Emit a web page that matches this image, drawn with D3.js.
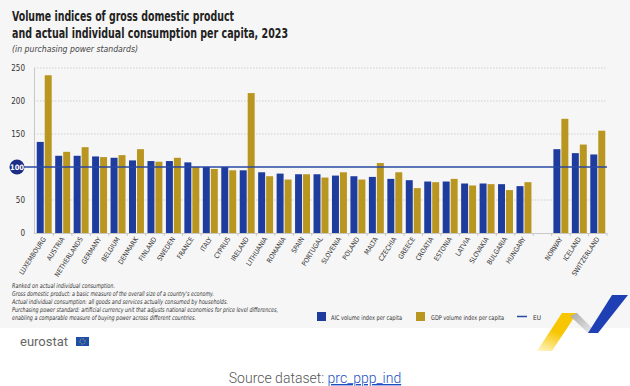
<!DOCTYPE html>
<html>
<head>
<meta charset="utf-8">
<script src="https://cdn.jsdelivr.net/npm/d3@7/dist/d3.min.js"></script>
<style>
  body { margin: 0; background: #fff; }
  svg { display: block; }
  .narrow { font-family: "Liberation Sans Narrow", "DejaVu Sans Condensed", sans-serif; }
</style>
</head>
<body>
<div id="chart"></div>
<script>
// countries ranked on AIC, then the EFTA group after a gap
const euCountries = ["LUXEMBOURG","AUSTRIA","NETHERLANDS","GERMANY","BELGIUM","DENMARK","FINLAND","SWEDEN","FRANCE","ITALY","CYPRUS","IRELAND","LITHUANIA","ROMANIA","SPAIN","PORTUGAL","SLOVENIA","POLAND","MALTA","CZECHIA","GREECE","CROATIA","ESTONIA","LATVIA","SLOVAKIA","BULGARIA","HUNGARY"]
const eftaCountries = ["NORWAY","ICELAND","SWITZERLAND"]
const aicValues = [138,117,117,116,114,110,109,109,107,100,100,95,92,90,89,89,87,86,85,82,80,78,78,75,75,74,71,127,121,119]
const gdpValues = [239,123,130,115,118,127,108,114,100,97,95,212,86,81,89,84,92,81,106,92,68,77,82,72,74,65,77,173,134,155]
const yTicks = [0,50,100,150,200,250]
const euLevel = 100

const footnotes = [
  "Ranked on actual individual consumption.",
  "Gross domestic product: a basic measure of the overall size of a country's economy.",
  "Actual individual consumption: all goods and services actually consumed by households.",
  "Purchasing power standard: artificial currency unit that adjusts national economies for price level differences,",
  "enabling a comparable measure of buying power across different countries."
]
const footWidths = [103, 202, 216, 266, 184]

const blue = "#1e3b9e", gold = "#b8961f", lineBlue = "#2848a3"

const W = 630, H = 386
const svg = d3.select("#chart").append("svg").attr("width", W).attr("height", H)

// panel background
svg.append("rect").attr("width", W).attr("height", 328).attr("fill", "#f6f6f6")

// title
const title = svg.append("g").attr("class", "narrow").attr("fill", "#222").attr("font-weight", "bold")
title.append("text").attr("x", 12).attr("y", 21).attr("font-size", 14)
  .attr("textLength", 222).attr("lengthAdjust", "spacingAndGlyphs")
  .text("Volume indices of gross domestic product")
title.append("text").attr("x", 12).attr("y", 38).attr("font-size", 14)
  .attr("textLength", 276).attr("lengthAdjust", "spacingAndGlyphs")
  .text("and actual individual consumption per capita, 2023")
svg.append("text").attr("class", "narrow").attr("x", 12).attr("y", 52)
  .attr("font-size", 8.5).attr("font-style", "italic").attr("fill", "#444")
  .attr("textLength", 126).attr("lengthAdjust", "spacingAndGlyphs")
  .text("(in purchasing power standards)")

// scales
const domain = [...euCountries, "gap", ...eftaCountries]
const countries = [...euCountries, ...eftaCountries]
const data = countries.map((c, i) => ({country: c, aic: aicValues[i], gdp: gdpValues[i]}))

const x = d3.scaleBand().domain(domain).range([35, 607]).padding(0)
const xSub = d3.scaleBand().domain(["aic","gdp"]).range([0, x.bandwidth()])
  .paddingInner(0.125).paddingOuter(0.22)
const y = d3.scaleLinear().domain([0, 250]).range([233, 68])

// gridlines
svg.append("g").selectAll("line").data(yTicks.filter(t => t !== 0 && t !== euLevel)).enter()
  .append("line")
  .attr("x1", 34).attr("x2", 607)
  .attr("y1", d => y(d)).attr("y2", d => y(d))
  .attr("stroke", "#c8c8c8").attr("stroke-width", 0.8).attr("stroke-dasharray", "1.5,1.5")

// y axis line
svg.append("line").attr("x1", 34.5).attr("x2", 34.5).attr("y1", y(250)).attr("y2", y(0))
  .attr("stroke", "#c8c8c8").attr("stroke-width", 1)

// y tick labels
svg.append("g").attr("class", "narrow").selectAll("text")
  .data(yTicks.filter(t => t !== euLevel)).enter()
  .append("text")
  .attr("x", 25).attr("y", d => y(d) + 2.5)
  .attr("text-anchor", "end").attr("font-size", 8).attr("fill", "#333")
  .text(d => d)

// bars
const groups = svg.append("g").selectAll("g").data(data).enter()
  .append("g").attr("transform", d => "translate(" + x(d.country) + ",0)")
groups.append("rect")
  .attr("x", xSub("aic")).attr("width", xSub.bandwidth())
  .attr("y", d => y(d.aic)).attr("height", d => y(0) - y(d.aic))
  .attr("fill", blue)
groups.append("rect")
  .attr("x", xSub("gdp")).attr("width", xSub.bandwidth())
  .attr("y", d => y(d.gdp)).attr("height", d => y(0) - y(d.gdp))
  .attr("fill", gold)

// x axis baseline + ticks at slot boundaries
svg.append("line").attr("x1", 34).attr("x2", 607).attr("y1", 233.5).attr("y2", 233.5)
  .attr("stroke", "#c8c8c8")
svg.append("g").selectAll("line").data(domain).enter()
  .append("line")
  .attr("x1", d => x(d) + x.bandwidth()).attr("x2", d => x(d) + x.bandwidth())
  .attr("y1", 233).attr("y2", 236)
  .attr("stroke", "#c8c8c8")

// x labels rotated
svg.append("g").attr("class", "narrow").selectAll("text").data(countries).enter()
  .append("text")
  .attr("transform", d => "translate(" + (x(d) + x.bandwidth() / 2 + 2) + ",239) rotate(-57)")
  .attr("text-anchor", "end").attr("font-size", 6.8).attr("fill", "#333")
  .text(d => d)

// EU line with 100 badge
svg.append("line").attr("x1", 17).attr("x2", 607)
  .attr("y1", y(euLevel)).attr("y2", y(euLevel))
  .attr("stroke", lineBlue).attr("stroke-width", 1.5)
svg.append("circle").attr("cx", 17).attr("cy", y(euLevel)).attr("r", 7.5).attr("fill", "#1c2d86")
svg.append("text").attr("class", "narrow").attr("x", 17).attr("y", y(euLevel) + 2.5)
  .attr("text-anchor", "middle").attr("font-size", 7.5).attr("font-weight", "bold")
  .attr("fill", "#fff").text(euLevel)

// footnotes
svg.append("g").attr("class", "narrow").selectAll("text").data(footnotes).enter()
  .append("text")
  .attr("x", 12).attr("y", (d, i) => 288 + i * 8)
  .attr("font-size", 6.5).attr("font-style", "italic").attr("fill", "#333")
  .attr("textLength", (d, i) => footWidths[i]).attr("lengthAdjust", "spacingAndGlyphs")
  .text(d => d)

// legend
const legend = svg.append("g").attr("class", "narrow")
legend.append("rect").attr("x", 317).attr("y", 312).attr("width", 9).attr("height", 9).attr("fill", blue)
legend.append("text").attr("x", 331).attr("y", 319.5).attr("font-size", 6.5).attr("fill", "#333")
  .attr("textLength", 71).attr("lengthAdjust", "spacingAndGlyphs").text("AIC volume index per capita")
legend.append("rect").attr("x", 416).attr("y", 312).attr("width", 9).attr("height", 9).attr("fill", gold)
legend.append("text").attr("x", 431).attr("y", 319.5).attr("font-size", 6.5).attr("fill", "#333")
  .attr("textLength", 73).attr("lengthAdjust", "spacingAndGlyphs").text("GDP volume index per capita")
legend.append("line").attr("x1", 517).attr("x2", 527).attr("y1", 316.5).attr("y2", 316.5)
  .attr("stroke", lineBlue).attr("stroke-width", 1.5)
legend.append("text").attr("x", 533).attr("y", 319.5).attr("font-size", 6.5).attr("fill", "#333").text("EU")

// decorative swoosh
const defs = svg.append("defs")
const yg = defs.append("linearGradient").attr("id", "yg").attr("x1", 0).attr("y1", 1).attr("x2", 0.4).attr("y2", 0)
yg.append("stop").attr("offset", "0%").attr("stop-color", "#fff6c8")
yg.append("stop").attr("offset", "60%").attr("stop-color", "#f7c600")
const gg = defs.append("linearGradient").attr("id", "gg").attr("x1", 0).attr("y1", 0).attr("x2", 1).attr("y2", 1)
gg.append("stop").attr("offset", "0%").attr("stop-color", "#a9a9a9")
gg.append("stop").attr("offset", "100%").attr("stop-color", "#eeeeee")
svg.append("polygon").attr("points", "537,351 562,313 577,313 552,351").attr("fill", "url(#yg)")
svg.append("polygon").attr("points", "570,316 577,313 597,333 588,333").attr("fill", "url(#gg)")
svg.append("polygon").attr("points", "588,333 598,333 628,295 612,295").attr("fill", "#1f3fb5")

// eurostat logo
svg.append("text").attr("x", 20).attr("y", 346).attr("font-family", "Roboto, 'Liberation Sans', sans-serif")
  .attr("font-size", 13).attr("fill", "#666").text("eurostat")
svg.append("rect").attr("x", 76).attr("y", 337).attr("width", 13).attr("height", 9).attr("fill", "#1f4ea8")
svg.append("circle").attr("cx", 82.5).attr("cy", 341.5).attr("r", 2.6).attr("fill", "none")
  .attr("stroke", "#e8d44d").attr("stroke-width", 0.8).attr("stroke-dasharray", "0.8,0.8")

// source line
const src = svg.append("text").attr("x", 315).attr("y", 383).attr("text-anchor", "middle")
  .attr("font-family", "Roboto, 'Liberation Sans', sans-serif").attr("font-size", 14).attr("font-weight", 300)
  .attr("fill", "#555")
src.append("tspan").text("Source dataset: ")
src.append("tspan").attr("fill", "#1a4fc4").attr("text-decoration", "underline").text("prc_ppp_ind")
</script>
</body>
</html>
